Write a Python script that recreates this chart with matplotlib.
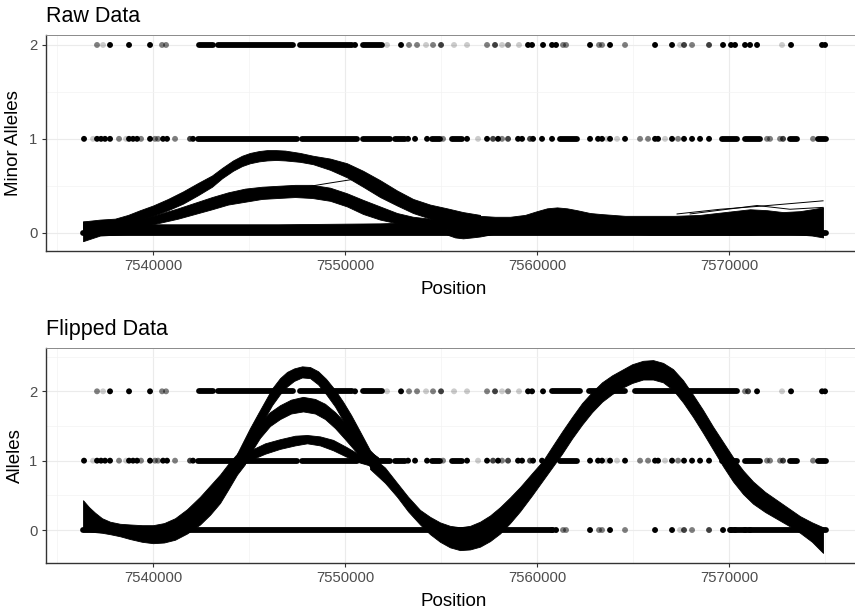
import numpy as np
import matplotlib
matplotlib.use("Agg")
import matplotlib.pyplot as plt

plt.rcParams["font.family"] = ["Liberation Sans", "DejaVu Sans"]

# ─────────────────────────────────────────────────────────────────────────────
# Axis breaks
# ─────────────────────────────────────────────────────────────────────────────
x_major = [7540000, 7550000, 7560000, 7570000]
x_minor = [7535000, 7545000, 7555000, 7565000, 7575000]
x_tick_labels = ["7540000", "7550000", "7560000", "7570000"]
y_major = [0, 1, 2]

# ─────────────────────────────────────────────────────────────────────────────
# Genotype points (position, alpha); dense stretches kept as runs
# ─────────────────────────────────────────────────────────────────────────────
hom2_pos = [7537083, 7537396, 7537760, 7538750, 7539844, 7540469, 7540677,
            7550521,
            7552187, 7552917, 7553333, 7553750, 7554219, 7554583, 7555000,
            7555677, 7556354, 7557396, 7557812, 7558177, 7558490, 7559062,
            7559531, 7559740, 7560312]
hom2_alpha = [0.5, 0.2, 1, 1, 1, 0.5, 0.5,
              1,
              0.2, 1, 0.5, 0.5, 0.2, 0.5, 0.75,
              0.2, 0.2, 0.5, 0.75, 0.2, 0.5, 0.2,
              1, 1, 1]
hom2_run_start = [7542396, 7543385, 7547656, 7550937]
hom2_run_end = [7543125, 7547292, 7550365, 7551927]

# stretch whose alleles get flipped (raw 2 -> flipped 0)
swap_pos = [7560781, 7560990, 7561354, 7561510, 7562760, 7563229, 7563385,
            7563802, 7564583, 7566146, 7567031, 7567448, 7567656, 7568073,
            7568958, 7569687, 7570104, 7570312, 7570833, 7571094]
swap_alpha = [1, 1, 0.5, 0.5, 1, 0.5, 0.5,
              1, 0.5, 1, 1, 0.2, 0.75, 0.5,
              0.75, 1, 1, 1, 1, 1]
flip_hom2_run_start = [7560781, 7562708, 7565104]
flip_hom2_run_end = [7562240, 7564583, 7570417]
flip_extra_pos = [7570833, 7570990]
flip_extra_alpha = [0.5, 0.75]

hom2_end_pos = [7571458, 7572760, 7573229, 7574844, 7575000]
hom2_end_alpha = [1, 0.2, 1, 1, 1]

het_pos = [7536406, 7536875, 7537083, 7537292, 7537500, 7537760, 7538229,
           7538594, 7538750, 7538958, 7539167, 7539375, 7539844, 7540104,
           7540260, 7540521, 7540729, 7541146, 7541927, 7542083,
           7553281, 7553646, 7554271, 7555104,
           7556354, 7556927, 7557396, 7557708, 7557969, 7558177, 7558490,
           7559010, 7559219, 7559635, 7559792, 7560260, 7560781,
           7562760, 7563177, 7563385, 7563646, 7563802, 7564167, 7564583,
           7565365, 7565781, 7566146, 7566302, 7566667, 7567031, 7567344,
           7567656, 7568073, 7568490, 7568958,
           7571979, 7572135, 7572656, 7572812, 7574375]
het_alpha = [1, 0.2, 1, 1, 1, 1, 0.5,
             0.2, 1, 1, 1, 0.5, 1, 0.5,
             0.5, 1, 1, 0.5, 0.75, 1,
             1, 1, 1, 0.5,
             1, 0.2, 1, 0.75, 1, 0.5, 0.75,
             1, 1, 0.75, 1, 1, 1,
             1, 1, 1, 0.2, 1, 0.2, 1,
             0.5, 0.5, 1, 1, 0.2, 1, 0.5,
             1, 1, 1, 1,
             0.5, 0.5, 0.5, 0.75, 0.5]
het_run_start = [7542344, 7547760, 7550937, 7552604, 7554531, 7555573,
                 7561198, 7569635, 7570833, 7573177, 7574635]
het_run_end = [7547500, 7550625, 7552344, 7553125, 7554948, 7556094,
               7562083, 7570417, 7571615, 7573542, 7575052]

raw_hom0_run_start = [7536354]
raw_hom0_run_end = [7575052]
flip_hom0_run_start = [7536354, 7570052]
flip_hom0_run_end = [7560833, 7575052]

# ─────────────────────────────────────────────────────────────────────────────
# Smoother bundles (lower / upper envelope of the fitted lines)
# ─────────────────────────────────────────────────────────────────────────────
raw_a_x = [7536354, 7537240, 7538021, 7538698, 7539323, 7540000, 7540781,
           7541562, 7542344, 7543073, 7543594, 7544167, 7544635, 7545052,
           7545521, 7545937, 7546406, 7546875, 7547656, 7548333, 7549219,
           7550104, 7550937, 7551823, 7552708, 7553542, 7554427, 7555313,
           7556146, 7557031]
raw_a_lo = [-0.02, 0.03, 0.06, 0.10, 0.14, 0.18, 0.24,
            0.31, 0.40, 0.49, 0.58, 0.66, 0.71, 0.74,
            0.76, 0.77, 0.775, 0.77, 0.755, 0.73, 0.67,
            0.59, 0.49, 0.38, 0.29, 0.21, 0.15, 0.10,
            0.07, 0.05]
raw_a_hi = [0.12, 0.14, 0.15, 0.19, 0.24, 0.29, 0.36,
            0.44, 0.53, 0.61, 0.69, 0.77, 0.82, 0.85,
            0.87, 0.88, 0.88, 0.875, 0.85, 0.82, 0.79,
            0.74, 0.66, 0.56, 0.45, 0.36, 0.30, 0.26,
            0.22, 0.19]

raw_b_x = [7538698, 7540000, 7541302, 7542187, 7543073, 7543906, 7544792,
           7545677, 7546510, 7547396, 7548281, 7549219, 7550104, 7550937,
           7551823, 7552708, 7553542, 7555313]
raw_b_lo = [0.06, 0.09, 0.15, 0.20, 0.25, 0.30, 0.33,
            0.36, 0.37, 0.38, 0.37, 0.34, 0.28, 0.20,
            0.14, 0.10, 0.08, 0.05]
raw_b_hi = [0.12, 0.18, 0.26, 0.32, 0.38, 0.43, 0.47,
            0.49, 0.50, 0.51, 0.51, 0.48, 0.42, 0.35,
            0.28, 0.21, 0.17, 0.13]

raw_c_x = [7536354, 7537240, 7540000, 7546510, 7551823, 7555313]
raw_c_lo = [-0.09, -0.03, 0.0, 0.01, 0.02, 0.02]
raw_c_hi = [0.12, 0.11, 0.09, 0.09, 0.10, 0.12]

raw_tail_x = [7555313, 7555729, 7556146, 7556615, 7557031, 7557812, 7558594,
              7559375, 7560000, 7560521, 7561042, 7561562, 7562083, 7562760,
              7563281, 7564583, 7565885, 7567187, 7568490, 7569792, 7571094,
              7571979, 7572812, 7573698, 7574323, 7574896]
raw_tail_lo = [-0.02, -0.05, -0.06, -0.05, -0.04, -0.01, 0.0,
               0.0, 0.0, 0.0, 0.0, 0.0, 0.0, 0.0,
               0.0, -0.01, -0.02, -0.02, -0.02, -0.02, -0.02,
               -0.01, -0.01, -0.02, -0.03, -0.05]
raw_tail_hi = [0.25, 0.22, 0.20, 0.19, 0.18, 0.17, 0.17,
               0.19, 0.23, 0.26, 0.27, 0.26, 0.24, 0.21,
               0.20, 0.18, 0.18, 0.18, 0.19, 0.22, 0.25,
               0.24, 0.22, 0.23, 0.25, 0.27]

raw_stray_x = [[7547135, 7549219, 7550781],
               [7567292, 7569531, 7571458, 7573177, 7574896],
               [7567969, 7571458, 7573177, 7574896]]
raw_stray_y = [[0.46, 0.53, 0.58],
               [0.20, 0.25, 0.28, 0.31, 0.34],
               [0.20, 0.29, 0.25, 0.27]]

flip_left_x = [7536354, 7536667, 7536979, 7537344, 7537760, 7538281, 7538802,
               7539427, 7540000, 7540573, 7541146, 7541771, 7542448, 7542969,
               7543490, 7543906, 7544375, 7544792]
flip_left_lo = [-0.02, -0.02, -0.03, -0.04, -0.06, -0.09, -0.13,
                -0.17, -0.19, -0.18, -0.14, -0.05, 0.08, 0.22,
                0.39, 0.58, 0.80, 0.95]
flip_left_hi = [0.43, 0.33, 0.25, 0.17, 0.12, 0.09, 0.08,
                0.07, 0.07, 0.10, 0.17, 0.30, 0.48, 0.64,
                0.80, 0.95, 1.10, 1.22]

flip_top_x = [7544375, 7544740, 7545052, 7545469, 7545833, 7546198, 7546615,
              7546979, 7547344, 7547760, 7548177, 7548594, 7549010, 7549479,
              7549896, 7550312, 7550781, 7551302, 7551823]
flip_top_lo = [0.85, 1.05, 1.22, 1.45, 1.62, 1.80, 1.96,
               2.07, 2.15, 2.20, 2.19, 2.10, 1.96, 1.78,
               1.58, 1.38, 1.15, 0.91, 0.85]
flip_top_hi = [1.10, 1.30, 1.47, 1.68, 1.86, 2.04, 2.19,
               2.28, 2.33, 2.36, 2.35, 2.29, 2.18, 2.02,
               1.85, 1.66, 1.42, 1.15, 1.00]

flip_mid_x = [7544531, 7545052, 7545573, 7546094, 7546615, 7547187, 7547812,
              7548437, 7548958, 7549479, 7550000, 7550625, 7551198, 7551719]
flip_mid_lo = [0.90, 1.10, 1.33, 1.50, 1.60, 1.68, 1.71,
               1.68, 1.60, 1.47, 1.31, 1.11, 0.96, 0.92]
flip_mid_hi = [1.10, 1.33, 1.55, 1.70, 1.80, 1.88, 1.92,
               1.89, 1.82, 1.70, 1.55, 1.35, 1.15, 1.05]

flip_low_x = [7544531, 7545156, 7545833, 7546615, 7547396, 7548021, 7548698,
              7549375, 7550052, 7550677, 7551302, 7551823]
flip_low_lo = [0.92, 1.02, 1.10, 1.17, 1.22, 1.25, 1.22,
               1.15, 1.06, 0.98, 0.93, 0.90]
flip_low_hi = [1.05, 1.16, 1.25, 1.31, 1.36, 1.37, 1.35,
               1.30, 1.20, 1.10, 1.03, 1.00]

flip_right_x = [7551302, 7552083, 7552708, 7553281, 7553906, 7554427, 7554948,
                7555469, 7555990, 7556510, 7557031, 7557552, 7558073, 7558594,
                7559115, 7559740, 7560312, 7560781, 7561302, 7561823, 7562344,
                7562865, 7563385, 7563906, 7564427, 7564948, 7565521, 7566042,
                7566562, 7567083, 7567604, 7568125, 7568646, 7569167, 7569687,
                7570208, 7570729, 7571250, 7571875, 7572500, 7573125, 7573698,
                7574323, 7574896]
flip_right_lo = [0.88, 0.68, 0.48, 0.27, 0.08, -0.06, -0.17,
                 -0.25, -0.29, -0.28, -0.24, -0.16, -0.05, 0.10,
                 0.27, 0.50, 0.72, 0.90, 1.10, 1.32, 1.52,
                 1.70, 1.85, 1.96, 2.05, 2.12, 2.17, 2.17,
                 2.13, 2.02, 1.84, 1.63, 1.40, 1.16, 0.92,
                 0.70, 0.52, 0.38, 0.26, 0.16, 0.06, -0.04,
                 -0.17, -0.33]
flip_right_hi = [1.08, 0.90, 0.68, 0.48, 0.29, 0.19, 0.11,
                 0.06, 0.04, 0.06, 0.12, 0.21, 0.33, 0.47,
                 0.62, 0.82, 1.00, 1.20, 1.42, 1.63, 1.83,
                 1.99, 2.13, 2.23, 2.31, 2.39, 2.44, 2.45,
                 2.41, 2.32, 2.16, 1.95, 1.73, 1.49, 1.27,
                 1.05, 0.86, 0.70, 0.55, 0.43, 0.31, 0.20,
                 0.11, 0.04]


# ─────────────────────────────────────────────────────────────────────────────
# Helpers
# ─────────────────────────────────────────────────────────────────────────────
DOT_S = 18
RUN_LW = 4.2


def _dots(ax, pos, alpha, y):
    ax.scatter(pos, np.full(len(pos), y), s=DOT_S, c="black",
               alpha=np.asarray(alpha, dtype=float), linewidths=0, zorder=2)


def _runs(ax, start, end, y):
    ax.hlines(np.full(len(start), y), start, end, colors="black",
              linewidth=RUN_LW, capstyle="round", zorder=2)


def _band(ax, x, lo, hi):
    ax.fill_between(x, lo, hi, color="black", linewidth=0.6, zorder=3)


def _style(ax, ylim, yminor):
    ax.set_xlim(7534412, 7576979)
    ax.set_ylim(*ylim)
    ax.set_xticks(x_major)
    ax.set_xticklabels(x_tick_labels)
    ax.set_xticks(x_minor, minor=True)
    ax.set_yticks(y_major)
    ax.set_yticks(yminor, minor=True)
    ax.grid(which="major", color="#EBEBEB", linewidth=0.8)
    ax.grid(which="minor", color="#F3F3F3", linewidth=0.5)
    ax.set_axisbelow(True)
    ax.tick_params(which="minor", length=0)
    ax.tick_params(which="major", length=3, width=0.8, color="#333333",
                   labelcolor="#4D4D4D", labelsize=10.7, pad=3)
    for side in ("top", "right"):
        ax.spines[side].set_color("#8A8A8A")
        ax.spines[side].set_linewidth(0.7)
    for side in ("left", "bottom"):
        ax.spines[side].set_color("#333333")
        ax.spines[side].set_linewidth(1.0)


# ─────────────────────────────────────────────────────────────────────────────
# Figure
# ─────────────────────────────────────────────────────────────────────────────
fig = plt.figure(figsize=(8.55, 6.1), dpi=100)
ax_raw = fig.add_axes([0.0535, 0.5890, 0.9559, 0.3536])
ax_flip = fig.add_axes([0.0535, 0.0775, 0.9559, 0.3515])

# ── Raw data ────────────────────────────────────────────────────────────────
_runs(ax_raw, raw_hom0_run_start, raw_hom0_run_end, 0)
_runs(ax_raw, het_run_start, het_run_end, 1)
_dots(ax_raw, het_pos, het_alpha, 1)
_runs(ax_raw, hom2_run_start, hom2_run_end, 2)
_dots(ax_raw, hom2_pos, hom2_alpha, 2)
_dots(ax_raw, swap_pos, swap_alpha, 2)
_dots(ax_raw, hom2_end_pos, hom2_end_alpha, 2)

_band(ax_raw, raw_c_x, raw_c_lo, raw_c_hi)
_band(ax_raw, raw_b_x, raw_b_lo, raw_b_hi)
_band(ax_raw, raw_a_x, raw_a_lo, raw_a_hi)
_band(ax_raw, raw_tail_x, raw_tail_lo, raw_tail_hi)
for sx, sy in zip(raw_stray_x, raw_stray_y):
    ax_raw.plot(sx, sy, color="black", linewidth=0.7, zorder=3)

_style(ax_raw, (-0.1915, 2.106), [0.5, 1.5])
ax_raw.set_title("Raw Data", loc="left", fontsize=15.5, pad=9.5)

# ── Flipped data ────────────────────────────────────────────────────────────
_runs(ax_flip, flip_hom0_run_start, flip_hom0_run_end, 0)
_dots(ax_flip, swap_pos, swap_alpha, 0)
_runs(ax_flip, het_run_start, het_run_end, 1)
_dots(ax_flip, het_pos, het_alpha, 1)
_runs(ax_flip, hom2_run_start, hom2_run_end, 2)
_runs(ax_flip, flip_hom2_run_start, flip_hom2_run_end, 2)
_dots(ax_flip, hom2_pos, hom2_alpha, 2)
_dots(ax_flip, flip_extra_pos, flip_extra_alpha, 2)
_dots(ax_flip, hom2_end_pos, hom2_end_alpha, 2)

_band(ax_flip, flip_left_x, flip_left_lo, flip_left_hi)
_band(ax_flip, flip_low_x, flip_low_lo, flip_low_hi)
_band(ax_flip, flip_mid_x, flip_mid_lo, flip_mid_hi)
_band(ax_flip, flip_top_x, flip_top_lo, flip_top_hi)
_band(ax_flip, flip_right_x, flip_right_lo, flip_right_hi)

_style(ax_flip, (-0.4715, 2.62), [0.5, 1.5, 2.5])
ax_flip.set_title("Flipped Data", loc="left", fontsize=15.5, pad=9.5)

# ── Axis titles ─────────────────────────────────────────────────────────────
fig.text(13 / 855, 1 - 142.8 / 610, "Minor Alleles", rotation=90,
         ha="center", va="center", fontsize=13.5)
fig.text(15 / 855, 1 - 455.5 / 610, "Alleles", rotation=90,
         ha="center", va="center", fontsize=13.5)
fig.text(454 / 855, 1 - 290 / 610, "Position", ha="center", va="center",
         fontsize=13.5)
fig.text(454 / 855, 1 - 602 / 610, "Position", ha="center", va="center",
         fontsize=13.5)

fig.savefig("out.png", dpi=100)
plt.close(fig)
